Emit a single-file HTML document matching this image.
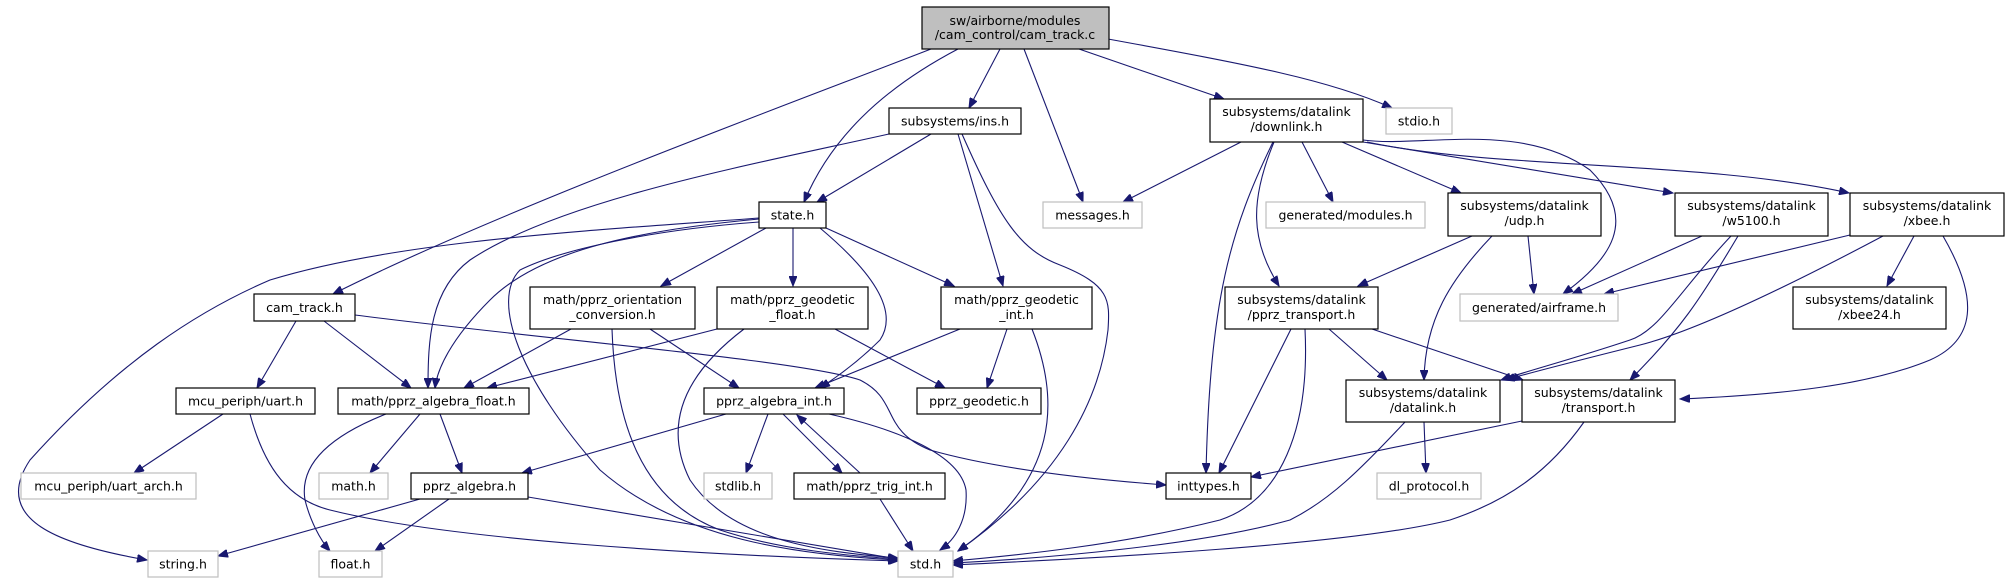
<!DOCTYPE html>
<html><head><meta charset="utf-8"><style>
html,body{margin:0;padding:0;background:#fff;}
svg{display:block;}
text{font-family:"DejaVu Sans","Liberation Sans",sans-serif;font-size:12.5px;fill:#000;text-anchor:middle;}
.n{fill:#fff;stroke:#000;stroke-width:1.2;}
.g{fill:#fff;stroke:#bfbfbf;stroke-width:1.2;}
.e{fill:none;stroke:#191970;stroke-width:1.1;}
</style></head><body>
<svg width="2009" height="584" viewBox="0 0 2009 584" xmlns="http://www.w3.org/2000/svg">
<defs>
<marker id="a" markerWidth="11" markerHeight="8" refX="10" refY="4" orient="auto" markerUnits="userSpaceOnUse">
<path d="M0,0 L10,4 L0,8 z" fill="#191970" stroke="#191970"/>
</marker>
</defs>
<g class="e" marker-end="url(#a)">
<!-- root -->
<path d="M931,49 C800,100 500,210 333,294"/>
<path d="M958,49 C880,90 830,140 804,202"/>
<path d="M1000,49 L969,108"/>
<path d="M1024,49 L1083,202"/>
<path d="M1079,49 L1224,99"/>
<path d="M1108,39 C1250,65 1330,80 1392,108"/>
<!-- ins -->
<path d="M889,134 C750,165 560,200 470,260 C430,290 428,340 428,388"/>
<path d="M931,134 L817,202"/>
<path d="M958,134 L1003,286"/>
<path d="M962,134 C1000,220 1020,250 1060,265 C1110,285 1110,300 1108,330 C1100,400 1060,480 958,551"/>
<!-- state -->
<path d="M759,218 C600,230 400,240 270,280 C200,310 120,360 30,460 C-10,520 60,545 147,560"/>
<path d="M759,219 C640,230 540,250 490,300 C450,340 437,370 435,388"/>
<path d="M759,222 C650,230 560,250 520,270 C490,300 520,380 600,470 C680,540 800,555 898,560"/>
<path d="M766,228 L661,286"/>
<path d="M793,228 L793,286"/>
<path d="M820,228 C870,270 900,310 880,340 C860,360 840,375 820,388"/>
<path d="M826,228 L954,286"/>
<!-- orientation -->
<path d="M571,329 L464,388"/>
<path d="M612,329 C615,420 640,500 720,530 C780,550 850,556 898,559"/>
<path d="M650,329 L739,388"/>
<!-- geodetic float -->
<path d="M717,329 L487,388"/>
<path d="M744,329 C690,370 660,420 690,480 C730,540 820,552 898,558"/>
<path d="M835,329 L945,388"/>
<!-- geodetic int -->
<path d="M960,329 L815,388"/>
<path d="M1007,329 L987,388"/>
<path d="M1032,329 C1060,400 1060,480 958,551"/>
<!-- cam_track.h -->
<path d="M296,321 L257,388"/>
<path d="M324,321 L411,388"/>
<path d="M355,315 C550,340 800,360 860,380 C900,400 880,430 930,450 C1000,470 1100,480 1166,485"/>
<!-- uart -->
<path d="M223,414 L134,473"/>
<path d="M250,414 C265,470 290,500 330,510 C450,540 700,555 898,561"/>
<!-- algebra float -->
<path d="M386,414 C320,440 300,470 305,500 C310,520 320,540 330,551"/>
<path d="M420,414 L370,473"/>
<path d="M440,414 L462,473"/>
<!-- pprz_algebra -->
<path d="M420,499 L218,556"/>
<path d="M449,499 L375,551"/>
<path d="M528,497 L898,559"/>
<!-- algebra int -->
<path d="M726,414 L522,473"/>
<path d="M768,414 L746,473"/>
<path d="M783,414 L842,473"/>
<path d="M829,414 C900,430 960,455 966,490 C968,520 955,540 940,550"/>
<path d="M860,473 L797,415"/>
<path d="M880,499 L913,551"/>
<!-- downlink -->
<path d="M1241,142 L1123,202"/>
<path d="M1302,142 L1333,202"/>
<path d="M1273,142 C1230,230 1210,300 1206,473"/>
<path d="M1274,142 C1250,200 1250,240 1279,286"/>
<path d="M1342,142 L1461,193"/>
<path d="M1363,140 C1420,148 1520,120 1590,170 C1640,220 1610,260 1563,294"/>
<path d="M1363,142 L1673,193"/>
<path d="M1367,142 C1500,170 1700,160 1849,193"/>
<!-- udp -->
<path d="M1472,236 L1358,286"/>
<path d="M1492,236 C1450,280 1425,320 1424,380"/>
<path d="M1528,236 L1534,294"/>
<!-- w5100 -->
<path d="M1702,236 L1572,294"/>
<path d="M1731,236 C1680,290 1660,330 1630,340 C1570,360 1530,370 1501,380"/>
<path d="M1738,236 C1700,300 1680,330 1630,380"/>
<!-- xbee -->
<path d="M1850,235 L1604,294"/>
<path d="M1883,236 C1800,280 1700,330 1640,345 C1580,360 1540,370 1505,380"/>
<path d="M1914,236 L1887,286"/>
<path d="M1943,236 C1980,300 1975,340 1930,360 C1870,385 1780,395 1680,399"/>
<!-- pprz_transport -->
<path d="M1329,329 L1387,380"/>
<path d="M1372,329 L1523,380"/>
<path d="M1291,329 L1219,473"/>
<path d="M1305,329 C1310,430 1280,500 1220,520 C1120,545 1020,555 953,561"/>
<!-- datalink -->
<path d="M1424,422 L1426,473"/>
<path d="M1405,422 C1360,470 1330,500 1290,520 C1200,545 1050,558 953,563"/>
<!-- transport -->
<path d="M1522,421 L1251,477"/>
<path d="M1584,422 C1550,470 1510,500 1450,520 C1350,545 1100,558 953,565"/>
</g>
<!-- nodes -->
<rect x="922" y="7" width="187" height="42" fill="#bfbfbf" stroke="#000" stroke-width="1.2"/>
<text x="1015" y="25">sw/airborne/modules</text><text x="1015" y="39">/cam_control/cam_track.c</text>

<rect class="n" x="254" y="294" width="101" height="27"/><text x="304.5" y="312">cam_track.h</text>
<rect class="n" x="176" y="388" width="139" height="26"/><text x="245.5" y="405.5">mcu_periph/uart.h</text>
<rect class="n" x="338" y="388" width="191" height="26"/><text x="433.5" y="405.5">math/pprz_algebra_float.h</text>
<rect class="g" x="21" y="473" width="175" height="26"/><text x="108.5" y="490.5">mcu_periph/uart_arch.h</text>
<rect class="g" x="319" y="473" width="69" height="26"/><text x="353.5" y="490.5">math.h</text>
<rect class="n" x="411" y="473" width="117" height="26"/><text x="469.5" y="490.5">pprz_algebra.h</text>
<rect class="g" x="148" y="551" width="70" height="26"/><text x="183" y="568.5">string.h</text>
<rect class="g" x="319" y="551" width="63" height="26"/><text x="350.5" y="568.5">float.h</text>
<rect class="n" x="530" y="287" width="165" height="42"/><text x="612.5" y="304">math/pprz_orientation</text><text x="612.5" y="319">_conversion.h</text>
<rect class="n" x="889" y="108" width="132" height="26"/><text x="955" y="125.5">subsystems/ins.h</text>
<rect class="n" x="759" y="202" width="67" height="26"/><text x="792.5" y="219.5">state.h</text>
<rect class="g" x="1043" y="202" width="99" height="26"/><text x="1092.5" y="219.5">messages.h</text>
<rect class="n" x="1210" y="99" width="153" height="43"/><text x="1286.5" y="116">subsystems/datalink</text><text x="1286.5" y="131">/downlink.h</text>
<rect class="n" x="717" y="287" width="151" height="42"/><text x="792.5" y="304">math/pprz_geodetic</text><text x="792.5" y="319">_float.h</text>
<rect class="n" x="941" y="287" width="151" height="42"/><text x="1016.5" y="304">math/pprz_geodetic</text><text x="1016.5" y="319">_int.h</text>
<rect class="n" x="704" y="388" width="140" height="26"/><text x="774" y="405.5">pprz_algebra_int.h</text>
<rect class="n" x="917" y="388" width="124" height="26"/><text x="979" y="405.5">pprz_geodetic.h</text>
<rect class="g" x="704" y="473" width="68" height="26"/><text x="738" y="490.5">stdlib.h</text>
<rect class="n" x="794" y="473" width="151" height="26"/><text x="869.5" y="490.5">math/pprz_trig_int.h</text>
<rect class="n" x="1166" y="473" width="85" height="26"/><text x="1208.5" y="490.5">inttypes.h</text>
<rect class="g" x="898" y="551" width="55" height="26"/><text x="925.5" y="568.5">std.h</text>
<rect class="g" x="1266" y="202" width="159" height="26"/><text x="1345.5" y="219.5">generated/modules.h</text>
<rect class="n" x="1225" y="287" width="153" height="42"/><text x="1301.5" y="304">subsystems/datalink</text><text x="1301.5" y="319">/pprz_transport.h</text>
<rect class="g" x="1386" y="108" width="66" height="26"/><text x="1419" y="125.5">stdio.h</text>
<rect class="n" x="1448" y="193" width="153" height="43"/><text x="1524.5" y="210">subsystems/datalink</text><text x="1524.5" y="225">/udp.h</text>
<rect class="n" x="1675" y="193" width="153" height="43"/><text x="1751.5" y="210">subsystems/datalink</text><text x="1751.5" y="225">/w5100.h</text>
<rect class="n" x="1850" y="193" width="154" height="43"/><text x="1927" y="210">subsystems/datalink</text><text x="1927" y="225">/xbee.h</text>
<rect class="g" x="1460" y="294" width="158" height="27"/><text x="1539" y="312">generated/airframe.h</text>
<rect class="n" x="1793" y="287" width="153" height="42"/><text x="1869.5" y="304">subsystems/datalink</text><text x="1869.5" y="319">/xbee24.h</text>
<rect class="n" x="1346" y="380" width="154" height="42"/><text x="1423" y="397">subsystems/datalink</text><text x="1423" y="412">/datalink.h</text>
<rect class="n" x="1522" y="380" width="153" height="42"/><text x="1598.5" y="397">subsystems/datalink</text><text x="1598.5" y="412">/transport.h</text>
<rect class="g" x="1377" y="473" width="104" height="26"/><text x="1429" y="490.5">dl_protocol.h</text>
</svg>
</body></html>
